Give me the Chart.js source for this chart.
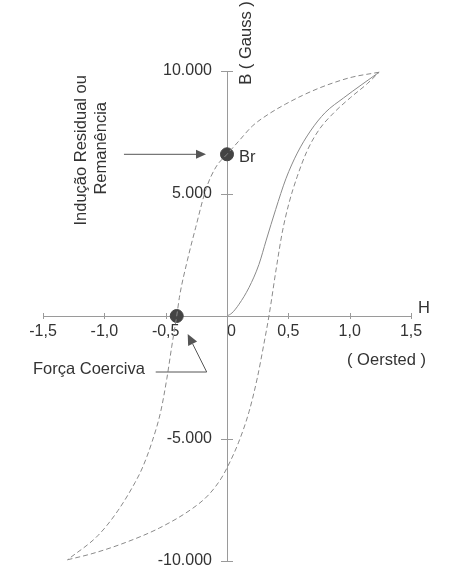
<!DOCTYPE html>
<html>
<head>
<meta charset="utf-8">
<script src="https://cdn.jsdelivr.net/npm/chart.js@4.4.1/dist/chart.umd.min.js"></script>
<style>
  html, body { margin: 0; padding: 0; background: #fff; }
  #wrap { width: 450px; height: 572px; }
</style>
</head>
<body>
<div id="wrap"><canvas id="bhChart"></canvas></div>
<script>
// Curva de histerese B x H
const upperH = [1.24, 1.02, 0.886, 0.75, 0.614, 0.478, 0.342, 0.206, 0.098, 0, -0.09, -0.17, -0.255, -0.324, -0.385, -0.41,
                -0.45, -0.49, -0.54, -0.61, -0.69, -0.75, -0.89, -1.05, -1.30];
const upperB = [9950, 9750, 9550, 9300, 9000, 8650, 8250, 7750, 7150, 6600, 6080, 5200, 3620, 2250, 850, 0,
                -1230, -2540, -3890, -5120, -6200, -6800, -7950, -8950, -9950];

const lowerH = [-1.30, -1.10, -0.83, -0.55, -0.28, -0.15, -0.05, 0, 0.095, 0.18, 0.247, 0.30, 0.342,
                0.405, 0.45, 0.505, 0.573, 0.654, 0.75, 0.872, 1.008, 1.143, 1.24];
const lowerB = [-9950, -9700, -9250, -8650, -7850, -7300, -6650, -6200, -5150, -3900, -2530, -1160, 0,
                2050, 3400, 4600, 5700, 6750, 7600, 8300, 8920, 9480, 9950];

const virginH = [0, 0.04, 0.098, 0.179, 0.26, 0.32, 0.397, 0.48, 0.573, 0.68, 0.80, 0.95, 1.10, 1.24];
const virginB = [0, 120, 480, 1160, 2100, 3100, 4350, 5600, 6650, 7550, 8300, 8900, 9450, 9950];

// Br (indução residual) e força coerciva
const markH = [0, -0.41];
const markB = [6600, 0];

const xTicks = [-1.5, -1.0, -0.5, 0, 0.5, 1.0, 1.5];
const yTicks = [-10000, -5000, 5000, 10000];

const lineColor = '#8a8a8a';
const axisColor = '#9a9a9a';
const textColor = '#333';
const fontFamily = '"Liberation Sans", Arial, sans-serif';

Chart.defaults.font.family = fontFamily;
Chart.defaults.font.size = 16;
Chart.defaults.color = textColor;

const toPts = (hs, bs) => hs.map((h, i) => ({ x: h, y: bs[i] }));
const fmtGauss = v => (v < 0 ? '-' : '') + String(Math.abs(v)).replace(/\B(?=(\d{3})+(?!\d))/g, '.');

function arrow(ctx, x1, y1, x2, y2, len, half) {
  const a = Math.atan2(y2 - y1, x2 - x1);
  ctx.beginPath();
  ctx.moveTo(x1, y1);
  ctx.lineTo(x2 - Math.cos(a) * len, y2 - Math.sin(a) * len);
  ctx.stroke();
  ctx.beginPath();
  ctx.moveTo(x2, y2);
  ctx.lineTo(x2 - Math.cos(a) * len - Math.sin(a) * half, y2 - Math.sin(a) * len + Math.cos(a) * half);
  ctx.lineTo(x2 - Math.cos(a) * len + Math.sin(a) * half, y2 - Math.sin(a) * len - Math.cos(a) * half);
  ctx.closePath();
  ctx.fill();
}

function vText(ctx, txt, cx, cy) {
  ctx.save();
  ctx.translate(cx, cy);
  ctx.rotate(-Math.PI / 2);
  ctx.textAlign = 'center';
  ctx.textBaseline = 'middle';
  ctx.fillText(txt, 0, 0);
  ctx.restore();
}

const extras = {
  id: 'extras',
  afterDraw(chart) {
    const { ctx, scales: { x, y } } = chart;
    const x0 = x.getPixelForValue(0), y0 = y.getPixelForValue(0);
    const brX = x.getPixelForValue(markH[0]), brY = y.getPixelForValue(markB[0]);
    const hcX = x.getPixelForValue(markH[1]);
    ctx.save();
    ctx.strokeStyle = axisColor;
    ctx.lineWidth = 1;
    // marcas dos eixos
    ctx.beginPath();
    xTicks.forEach(v => {
      const px = Math.round(x.getPixelForValue(v)) + 0.5;
      ctx.moveTo(px, y0 - 3); ctx.lineTo(px, y0 + 3);
    });
    yTicks.forEach(v => {
      const py = Math.round(y.getPixelForValue(v)) + 0.5;
      ctx.moveTo(x0 - 6, py); ctx.lineTo(x0 + 6, py);
    });
    ctx.stroke();

    ctx.fillStyle = textColor;
    ctx.font = '16.5px ' + fontFamily;
    ctx.textBaseline = 'middle';
    ctx.textAlign = 'left';
    ctx.fillText('H', x.right + 7, y0 - 8);
    ctx.fillText('Br', brX + 12, brY + 3);
    ctx.fillText('Força Coerciva', x.left - 10, y0 + 53);
    ctx.textAlign = 'center';
    ctx.fillText('( Oersted )', x.getPixelForValue(1.3), y0 + 44);
    vText(ctx, 'B ( Gauss )', x0 + 19, y.top - 28);
    vText(ctx, 'Indução Residual ou', brX - 146, brY - 4);
    vText(ctx, 'Remanência', brX - 126, brY - 6);

    // setas
    ctx.strokeStyle = '#555';
    ctx.fillStyle = '#555';
    arrow(ctx, x.getPixelForValue(-0.84), brY, brX - 21, brY, 10, 4.5);
    ctx.beginPath();
    ctx.moveTo(hcX - 21, y0 + 56);
    ctx.lineTo(hcX + 30, y0 + 56);
    ctx.stroke();
    arrow(ctx, hcX + 30, y0 + 56, hcX + 11, y0 + 18, 11, 5);
    ctx.restore();
  }
};

const curve = (hs, bs, dash) => ({
  data: toPts(hs, bs), showLine: true, borderColor: lineColor, borderWidth: 1,
  borderDash: dash, pointRadius: 0, cubicInterpolationMode: 'monotone'
});

new Chart(document.getElementById('bhChart'), {
  type: 'scatter',
  data: {
    datasets: [
      curve(upperH, upperB, [5, 3]),
      curve(lowerH, lowerB, [5, 3]),
      curve(virginH, virginB, []),
      { data: toPts(markH, markB), showLine: false, pointRadius: 6.5,
        backgroundColor: '#444', borderColor: '#444' }
    ]
  },
  options: {
    responsive: true,
    maintainAspectRatio: false,
    animation: false,
    layout: { padding: { left: 43, right: 39, top: 71, bottom: 11 } },
    plugins: {
      legend: { display: false },
      tooltip: { enabled: false }
    },
    scales: {
      x: {
        type: 'linear',
        min: -1.5, max: 1.5,
        position: { y: 0 },
        grid: { display: true, drawOnChartArea: false, drawTicks: false },
        border: { color: axisColor, width: 1 },
        ticks: {
          stepSize: 0.5, padding: 6, color: textColor,
          callback: v => (v === 0 ? '  0' : v.toFixed(1).replace('.', ','))
        }
      },
      y: {
        type: 'linear',
        min: -10000, max: 10000,
        position: 'center',
        grid: { display: true, drawOnChartArea: false, drawTicks: true, tickLength: 15, tickColor: 'rgba(0,0,0,0)' },
        border: { color: axisColor, width: 1 },
        ticks: {
          stepSize: 5000, padding: 0, color: textColor,
          callback: v => (v === 0 ? '' : fmtGauss(v))
        }
      }
    }
  },
  plugins: [extras]
});
</script>
</body>
</html>
